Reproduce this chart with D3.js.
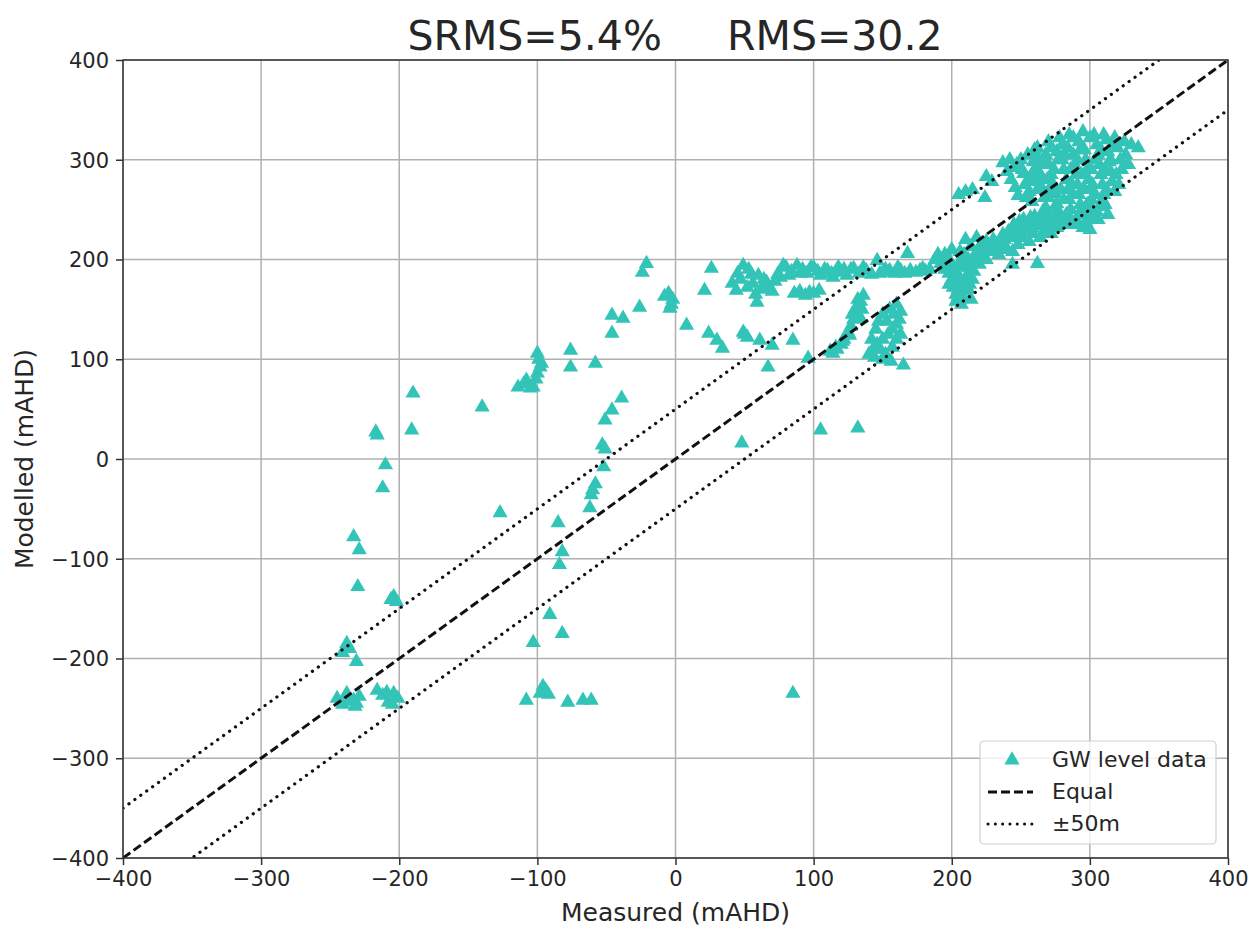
<!DOCTYPE html>
<html lang="en">
<head>
<meta charset="UTF-8"/>
<title>Measured vs modelled</title>
<script src="https://d3js.org/d3.v7.min.js"></script>
<style>
    body { margin: 0; background: #fff; }
    text { font-family: "DejaVu Sans", sans-serif; fill: #262626; }
    .grid line { stroke: #b0b0b0; stroke-width: 1.5; }
    .axis path { display: none; }
    .axis line { stroke: #333; stroke-width: 1.5; }
</style>
</head>
<body>
<svg width="1259" height="927"></svg>
<script>
// GW level data (measured / modelled, mAHD)
var measured = [
    -245,-241,-238,-236,-233,-231,-229,-232,-241,-238,-236,-231,-233,-229,-230,-217,-216,-210,-212,
    -216,-209,-204,-208,-205,-201,-212,-206,-204,-202,-190,-191,
    -140,-127,-114,-110,-108,-105,-103,-100,-99,-98,-97,-100,-101,-76,-76,-58,
    -103,-91,-82,-82,-84,-85,-94,-96,-98,-92,-108,-78,-67,-61,
    -62,-60,-58,-61,-52,-53,-51,-51,-46,-39,
    -46,-38,-46,-26,-21,-24,-6,-4,-5,-8,-2,-3,
    26,21,8,24,30,34,49,50,52,61,70,85,67,96,48,85,105,132,165,
    41,44,47,49,52,55,56,58,59,62,64,66,68,70,72,74,76,78,
    80,84,88,92,95,98,100,103,105,108,110,113,114,117,120,124,127,129,
    86,90,94,97,100,104,
    133,138,142,146,148,152,155,159,163,166,170,174,177,181,184,168,
    112,114,116,117,120,121,122,125,126,127,128,129,130,131,132,133,134,134,135,136,
    140,142,143,144,145,146,147,148,150,150,150,152,153,154,155,156,157,157,158,160,160,160,162,163,163,
    188,190,192,195,195,197,198,200,200,200,201,203,203,204,205,206,207,207,208,209,210,210,211,212,213,
    214,214,215,215,217,218,219,220,222,225,225,228,230,231,234,238,
    235,238,240,242,244,245,246,248,250,252,254,256,258,260,262,264,266,268,270,272,274,276,278,285,290,244,262,
    237,240,243,245,246,248,250,252,254,255,256,258,260,262,262,264,265,267,268,268,270,270,272,273,275,
    276,276,276,278,280,281,283,283,284,284,285,286,288,289,290,290,291,292,292,293,294,295,296,297,297,
    298,299,300,300,300,301,302,303,305,305,306,307,307,308,309,310,310,311,312,313,314,315,316,318,318,
    320,322,330,335,255,262,270,278,285,295,
    225,205,224,229,210,215,
    242,247,251,253,257,259,261,263,266,269,271,274,277,279,281,282,286,287,288,291,
    293,294,296,298,299,301,302,304,304,306,308,309,311,312,313,315,317,319,321,323,
    326,328,325,303,288,280,272,260,266,272,280,288,294,300,
    193,198,202,205,206,209,211,213,216,218,221,223,226,229,232,203,208,212,236,198,
    237,241,247,251,255,259,263,267,271,275,279,282,287,249,257,
    45,53,60,82,90,118,122,136,150,161,179
];
var modelled = [
    -240,-246,-235,-243,-242,-245,-238,-248,-194,-185,-190,-203,-78,-91,-128,27,24,-6,-29,
    -232,-234,-235,-244,-246,-240,-237,-141,-138,-143,66,29,
    52,-54,72,75,79,71,72,106,100,92,96,86,80,109,92,96,
    -184,-156,-175,-93,-106,-64,-232,-228,-235,-236,-242,-244,-242,-242,
    -49,-31,-25,-36,-8,14,10,39,49,61,
    144,141,126,152,196,187,164,151,166,163,160,155,
    191,169,134,126,119,111,127,125,122,119,114,119,92,101,16,-235,29,31,94,
    176,169,180,194,172,185,176,165,157,170,180,177,172,168,178,185,182,194,
    192,188,194,190,186,192,192,188,184,190,189,186,182,190,187,184,190,191,
    166,168,164,167,166,169,
    186,189,185,199,186,190,189,186,189,186,189,187,189,188,190,206,
    108,106,112,110,115,118,120,127,124,133,145,140,150,146,160,152,158,141,150,164,
    105,120,110,102,130,115,138,110,120,145,100,105,138,125,150,98,112,130,145,135,120,155,140,125,148,
    200,205,196,190,205,202,186,180,195,210,172,165,175,186,160,208,170,155,192,178,168,220,184,200,192,
    160,213,180,198,205,222,210,195,214,200,218,212,220,208,205,215,
    215,220,210,222,208,235,225,215,228,240,230,218,232,243,234,222,238,230,240,226,243,232,238,241,236,195,196,
    297,288,280,292,272,264,300,286,262,278,268,258,290,302,270,282,272,262,252,305,295,262,285,276,266,
    256,250,308,246,300,290,280,245,270,312,260,250,305,295,285,240,275,265,318,255,245,232,310,300,238,
    290,280,270,322,230,260,250,240,315,248,305,295,253,285,275,265,325,255,320,308,298,288,278,268,322,
    312,300,315,312,305,312,318,322,325,328,
    283,265,262,278,268,270,
    300,295,290,275,283,298,278,288,296,280,270,290,300,270,260,305,290,275,265,300,
    310,285,270,255,245,290,275,300,265,240,310,260,290,270,245,300,315,285,275,290,
    305,295,318,325,322,315,312,310,248,244,238,235,250,240,
    200,198,190,180,198,205,195,175,188,198,205,210,208,215,215,158,162,170,210,175,
    225,228,232,222,236,226,240,228,234,238,244,235,238,238,242,
    186,190,184,184,186,192,190,192,187,192,191
];
var axisTicks = [-400, -300, -200, -100, 0, 100, 200, 300, 400];
var band = 50;

var svg = d3.select("svg");
var margin = {left: 123, right: 31, top: 60, bottom: 69};
var width = 1259 - margin.left - margin.right,
    height = 927 - margin.top - margin.bottom;

var x = d3.scaleLinear().domain([-400, 400]).range([0, width]);
var y = d3.scaleLinear().domain([-400, 400]).range([height, 0]);

var g = svg.append("g")
    .attr("transform", "translate(" + margin.left + "," + margin.top + ")");

g.append("clipPath").attr("id", "clip")
    .append("rect").attr("width", width).attr("height", height);

// grid
g.append("g").attr("class", "grid")
    .selectAll("line.v").data(axisTicks).enter().append("line")
    .attr("x1", function(d) { return x(d); }).attr("x2", function(d) { return x(d); })
    .attr("y1", 0).attr("y2", height);
g.append("g").attr("class", "grid")
    .selectAll("line.h").data(axisTicks).enter().append("line")
    .attr("y1", function(d) { return y(d); }).attr("y2", function(d) { return y(d); })
    .attr("x1", 0).attr("x2", width);

// points
var points = measured.map(function(m, i) { return {m: m, o: modelled[i]}; });
var tri = d3.symbol().type(d3.symbolTriangle).size(100);
g.append("g").attr("clip-path", "url(#clip)")
    .selectAll("path").data(points).enter().append("path")
    .attr("d", tri)
    .attr("transform", function(d) { return "translate(" + x(d.m) + "," + y(d.o) + ")"; })
    .attr("fill", "#33c4b8");

// reference lines
var refLines = [
    {off: 0, dash: "9,4", cap: "butt"},
    {off: band, dash: "0.1,7.2", cap: "round"},
    {off: -band, dash: "0.1,7.2", cap: "round"}
];
var line = d3.line().x(function(d) { return x(d[0]); }).y(function(d) { return y(d[1]); });
g.append("g").attr("clip-path", "url(#clip)")
    .selectAll("path").data(refLines).enter().append("path")
    .attr("d", function(d) { return line([[-400, -400 + d.off], [400, 400 + d.off]]); })
    .attr("fill", "none")
    .attr("stroke", "#111")
    .attr("stroke-width", function(d) { return d.off === 0 ? 3 : 3.2; })
    .attr("stroke-linecap", function(d) { return d.cap; })
    .attr("stroke-dasharray", function(d) { return d.dash; });

// frame
g.append("rect").attr("width", width).attr("height", height)
    .attr("fill", "none").attr("stroke", "#333").attr("stroke-width", 1.5);

// axes
var xAxis = g.append("g").attr("class", "axis")
    .attr("transform", "translate(0," + height + ")")
    .call(d3.axisBottom(x).tickValues(axisTicks).tickSize(7).tickPadding(6));
var yAxis = g.append("g").attr("class", "axis")
    .call(d3.axisLeft(y).tickValues(axisTicks).tickSize(7).tickPadding(7));
g.selectAll(".axis text").style("font-size", "21px").attr("fill", "#262626");
yAxis.selectAll("text").attr("dy", "0.35em");

// labels
svg.append("text")
    .attr("x", margin.left + width / 2).attr("y", 921)
    .attr("text-anchor", "middle").style("font-size", "25px")
    .text("Measured (mAHD)");
svg.append("text")
    .attr("transform", "translate(33," + (margin.top + height / 2) + ") rotate(-90)")
    .attr("text-anchor", "middle").style("font-size", "25px")
    .text("Modelled (mAHD)");
svg.append("text")
    .attr("x", 675).attr("y", 50)
    .attr("text-anchor", "middle").style("font-size", "41px")
    .style("white-space", "pre")
    .text("SRMS=5.4%     RMS=30.2");

// legend
var legend = svg.append("g").attr("transform", "translate(980,741)");
legend.append("rect").attr("width", 236).attr("height", 103).attr("rx", 4)
    .attr("fill", "#fff").attr("fill-opacity", 0.8)
    .attr("stroke", "#d0d0d0").attr("stroke-width", 1.2);
legend.append("path").attr("d", tri)
    .attr("transform", "translate(32,19)").attr("fill", "#33c4b8");
legend.selectAll("line").data(refLines.slice(0, 2)).enter().append("line")
    .attr("x1", 8).attr("x2", 53)
    .attr("y1", function(d, i) { return 51 + i * 32; })
    .attr("y2", function(d, i) { return 51 + i * 32; })
    .attr("stroke", "#111").attr("stroke-width", 3)
    .attr("stroke-linecap", function(d) { return d.cap; })
    .attr("stroke-dasharray", function(d) { return d.dash; });
legend.selectAll("text").data(["GW level data", "Equal", "\u00b150m"]).enter().append("text")
    .attr("x", 72).attr("y", function(d, i) { return 26 + i * 32; })
    .style("font-size", "22px")
    .text(function(d) { return d; });
</script>
</body>
</html>
